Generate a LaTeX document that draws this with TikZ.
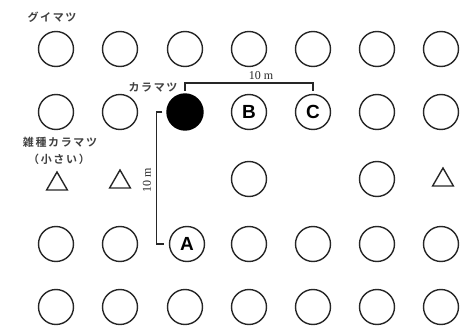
\documentclass[tikz,border=0pt]{standalone}
\usepackage{fontspec}
\setmainfont{Liberation Serif}
\newfontfamily\jpfont[LetterSpace=15,BoldFont={Noto Sans CJK JP Bold}]{Noto Sans CJK JP}
\newfontfamily\letterfont{Liberation Sans}
\usetikzlibrary{shapes.geometric}
\begin{document}
\begin{tikzpicture}[x=1pt,y=-1pt,
  tree/.style={circle, draw=black!85, line width=1.4pt, minimum size=35pt, inner sep=0pt},
  larch/.style={circle, fill=black, draw=black, line width=1.4pt, minimum size=36pt, inner sep=0pt},
  lettered/.style={tree, font=\letterfont\bfseries\fontsize{19}{19}\selectfont},
  hybrid/.style={regular polygon, regular polygon sides=3, draw=black!85, line width=1.4pt, minimum size=24pt, inner sep=0pt},
  jplabel/.style={font=\jpfont\bfseries\fontsize{11}{13}\selectfont, text=black!75, inner sep=0pt},
  dist/.style={font=\fontsize{12}{12}\selectfont, text=black!85, inner sep=0pt},
  bracket/.style={draw=black!85, line width=1.6pt}]
\useasboundingbox (0,0) rectangle (467,326);
% row 1
\foreach \c/\x in {1/56,2/120,3/185,4/249,5/313,6/377,7/441}
  \node[tree] (t1\c) at (\x,49) {};
% row 2
\node[tree] (t21) at (56,112) {};
\node[tree] (t22) at (120,112) {};
\node[larch] (K) at (185,112) {};
\node[lettered] (B) at (249,112) {B};
\node[lettered] (C) at (313,112) {C};
\node[tree] (t26) at (377,112) {};
\node[tree] (t27) at (441,112) {};
% row 3
\node[hybrid] (h1) at (57,184) {};
\node[hybrid] (h2) at (120,182) {};
\node[tree] (t34) at (249,179) {};
\node[tree] (t36) at (377,179) {};
\node[hybrid] (h7) at (443,180) {};
% row 4
\node[tree] (t41) at (56,244) {};
\node[tree] (t42) at (120,244) {};
\node[lettered] (A) at (187,244) {A};
\foreach \c/\x in {4/249,5/313,6/377,7/441}
  \node[tree] (t4\c) at (\x,244) {};
% row 5
\foreach \c/\x in {1/56,2/120,3/185,4/249,5/313,6/377,7/441}
  \node[tree] (t5\c) at (\x,307) {};
% labels
\node[jplabel] (lgui) at (52,17) {グイマツ};
\node[jplabel] (lkara) at (153,87) {カラマツ};
\node[jplabel] (lhyb) at (60,142) {雑種カラマツ};
\node[jplabel] (lsmall) at (59,159) {（小さい）};
% brackets
\draw[bracket] ([yshift=2.5pt]K.north) -- ++(0,-8) coordinate (bl) -| ([yshift=2.5pt]C.north);
\node[dist] (d1) at (261,76) {10 m};
\draw[bracket] ([xshift=-4pt]K.west) -- ++(-6,0) |- ([xshift=-5pt]A.west);
\node[dist, rotate=90] (d2) at (147,180) {10 m};
\end{tikzpicture}
\end{document}
